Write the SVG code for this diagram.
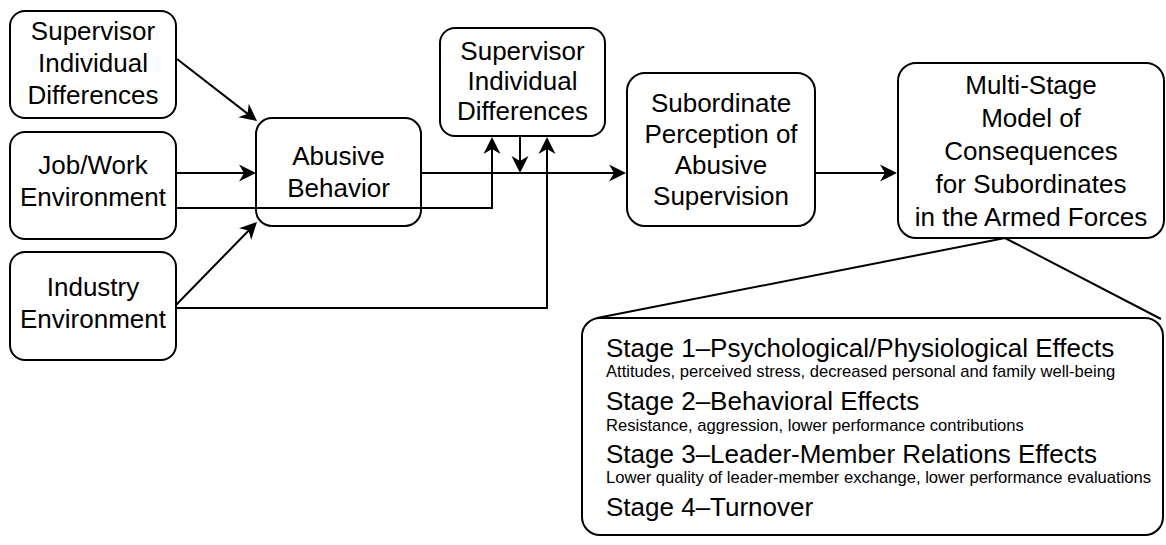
<svg xmlns="http://www.w3.org/2000/svg" width="1166" height="545" viewBox="0 0 1166 545">
<defs>
<marker id="ah" markerWidth="19" markerHeight="18" viewBox="-18 -9 19 18" refX="-8" refY="0" orient="auto" markerUnits="userSpaceOnUse">
<path d="M0,0 L-17,-8.5 L-12,0 L-17,8.5 Z" fill="#000"/>
</marker>
<style>
.box{fill:#fff;stroke:#000;stroke-width:2}
.t{font-family:"Liberation Sans",Arial,sans-serif;font-size:26px;fill:#000;text-anchor:middle}
.h{font-family:"Liberation Sans",Arial,sans-serif;font-size:26px;fill:#000}
.s{font-family:"Liberation Sans",Arial,sans-serif;font-size:16.6px;fill:#000}
.c{fill:none;stroke:#000;stroke-width:2}
.a{marker-end:url(#ah)}
</style>
</defs>
<rect width="1166" height="545" fill="#fff"/>
<g id="node-supervisor-left">
<rect class="box" x="10" y="11" width="166" height="107" rx="15"/>
<text class="t" x="93" y="40">Supervisor</text>
<text class="t" x="93" y="72">Individual</text>
<text class="t" x="93" y="104">Differences</text>
</g>
<g id="node-job">
<rect class="box" x="10" y="132" width="166" height="107" rx="15"/>
<text class="t" x="93" y="174">Job/Work</text>
<text class="t" x="93" y="206">Environment</text>
</g>
<g id="node-industry">
<rect class="box" x="10" y="252" width="166" height="108" rx="15"/>
<text class="t" x="93" y="296">Industry</text>
<text class="t" x="93" y="328">Environment</text>
</g>
<g id="node-abusive">
<rect class="box" x="256" y="118" width="165" height="108" rx="16"/>
<text class="t" x="338.5" y="165">Abusive</text>
<text class="t" x="338.5" y="197">Behavior</text>
</g>
<g id="node-supervisor-mid">
<rect class="box" x="440" y="28" width="165" height="108" rx="15"/>
<text class="t" x="522.5" y="60">Supervisor</text>
<text class="t" x="522.5" y="90">Individual</text>
<text class="t" x="522.5" y="120">Differences</text>
</g>
<g id="node-subordinate">
<rect class="box" x="627" y="73" width="188" height="153" rx="18"/>
<text class="t" x="721" y="112">Subordinate</text>
<text class="t" x="721" y="143">Perception of</text>
<text class="t" x="721" y="174">Abusive</text>
<text class="t" x="721" y="205">Supervision</text>
</g>
<g id="node-multistage">
<rect class="box" x="898" y="63" width="266" height="175" rx="18"/>
<text class="t" x="1031" y="94">Multi-Stage</text>
<text class="t" x="1031" y="127">Model of</text>
<text class="t" x="1031" y="160">Consequences</text>
<text class="t" x="1031" y="193">for Subordinates</text>
<text class="t" x="1031" y="226">in the Armed Forces</text>
</g>
<g id="node-stages">
<rect class="box" x="582" y="318" width="581" height="217" rx="18"/>
<text class="h" x="606" y="357">Stage 1–Psychological/Physiological Effects</text>
<text class="s" x="606" y="377">Attitudes, perceived stress, decreased personal and family well-being</text>
<text class="h" x="606" y="410">Stage 2–Behavioral Effects</text>
<text class="s" x="606" y="431">Resistance, aggression, lower performance contributions</text>
<text class="h" x="606" y="463">Stage 3–Leader-Member Relations Effects</text>
<text class="s" x="606" y="483">Lower quality of leader-member exchange, lower performance evaluations</text>
<text class="h" x="606" y="516">Stage 4–Turnover</text>
</g>
<g id="connectors">
<path class="c a" d="M177,59 L250.7,116.1"/>
<path class="c a" d="M176,173 H248"/>
<path class="c a" d="M176,305 L251.4,227.7"/>
<path class="c a" d="M176,208 H492 V145"/>
<path class="c a" d="M176,308 H547 V145"/>
<path class="c a" d="M421,173 H618"/>
<path class="c a" d="M520,136 V165"/>
<path class="c a" d="M815,173 H889"/>
<path class="c" d="M597,318 L1005,238 L1161,319"/>
</g>
</svg>
